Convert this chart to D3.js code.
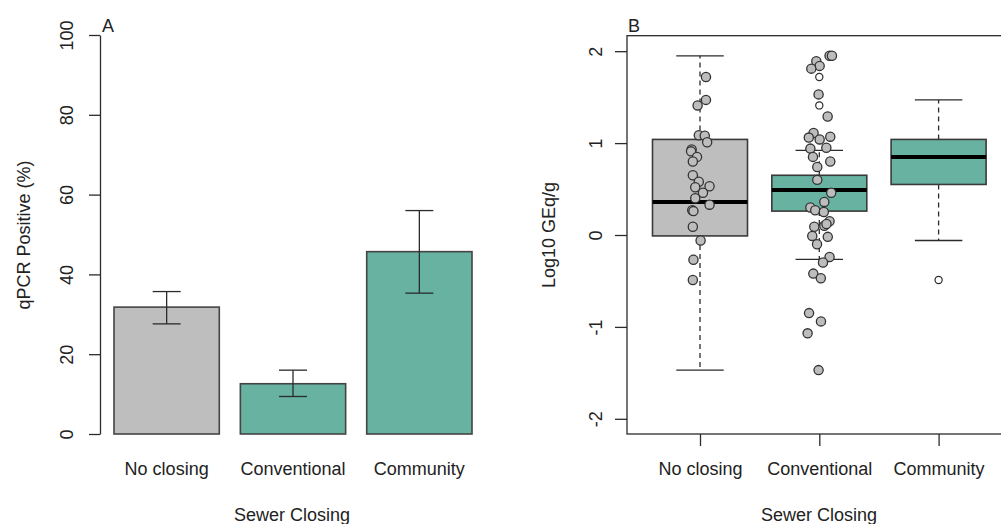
<!DOCTYPE html>
<html>
<head>
<meta charset="utf-8">
<script src="https://cdn.jsdelivr.net/npm/d3@7"></script>
<style>
  html, body { margin: 0; padding: 0; background: #fff; }
  svg text { font-family: "Liberation Sans", Arial, sans-serif; fill: #222; }
</style>
</head>
<body>
<svg id="chart" width="1001" height="524"></svg>
<script>
// ---------- DATA ----------
const categories = ["No closing", "Conventional", "Community"];
const categoryColors = ["#bebebe", "#67b2a0", "#67b2a0"];

// Panel A: percent qPCR positive with error bars
const pctPositive = [31.8, 12.6, 45.7];
const pctErrLow   = [27.6, 9.4, 35.3];
const pctErrHigh  = [35.7, 16.0, 56.0];
const pctTicks    = [0, 20, 40, 60, 80, 100];

// Panel B: boxplot stats (Log10 GEq/g)
const boxWhiskerLow  = [-1.47, -0.265, -0.06];
const boxQ1          = [-0.01, 0.26, 0.55];
const boxMedian      = [0.36, 0.49, 0.85];
const boxQ3          = [1.04, 0.65, 1.04];
const boxWhiskerHigh = [1.95, 0.92, 1.47];
const logTicks       = [-2, -1, 0, 1, 2];

// Boxplot outliers (open circles): category index (0-based), value
const outlierCat = [1, 1, 2];
const outlierVal = [1.72, 1.41, -0.49];

// Jittered raw observations: value and jitter (in category units)
const noClosingVals = [1.72, 1.47, 1.41, 1.085, 1.08, 1.01, 0.93, 0.91, 0.85, 0.80, 0.65, 0.58,
  0.52, 0.53, 0.46, 0.40, 0.33, 0.27, 0.26, 0.09, -0.06, -0.27, -0.49];
const noClosingJitter = [0.05, 0.05, -0.02, -0.01, 0.04, 0.06, -0.07, -0.075, -0.025, -0.06, -0.06, -0.01,
  -0.04, 0.08, 0.025, -0.04, 0.08, -0.065, -0.055, -0.06, 0.005, -0.055, -0.06];

const conventionalVals = [1.95, 1.95, 1.89, 1.84, 1.81, 1.53, 1.29, 1.11, 1.06, 1.04, 1.07, 0.94,
  0.95, 0.85, 0.80, 0.74, 0.60, 0.46, 0.36, 0.30, 0.27, 0.25, 0.15, 0.09, 0.10, 0.12, -0.01, -0.02,
  -0.10, -0.24, -0.30, -0.42, -0.47, -0.85, -0.94, -1.07, -1.47];
const conventionalJitter = [0.086, 0.106, -0.025, 0.003, -0.067, -0.006, 0.07, -0.048, -0.088, 0.003, 0.092, -0.075,
  0.059, -0.053, 0.092, -0.017, -0.017, 0.1, 0.042, -0.075, -0.034, 0.038, 0.086, -0.042, 0.042, 0.06, -0.059, 0.071,
  -0.019, 0.086, 0.031, -0.05, 0.013, -0.086, 0.014, -0.098, -0.006];

// ---------- DRAW ----------
const svg = d3.select("#chart");
svg.append("rect").attr("width", 1001).attr("height", 524).attr("fill", "#fff");
const ink = "#2b2b2b";
const FS = 18;

// ===== Panel A =====
const gA = svg.append("g");
const yA = d3.scaleLinear().domain([0, 100]).range([434, 35]);
const xA = d3.scaleBand().domain(categories).range([114, 472]).paddingInner(0.1667).paddingOuter(0);

const axA = gA.append("g").attr("transform", "translate(100,0)")
  .call(d3.axisLeft(yA).tickValues(pctTicks).tickSize(11).tickSizeOuter(0).tickFormat(d3.format("d")));
axA.select(".domain").attr("stroke", ink).attr("stroke-width", 1.3);
axA.selectAll(".tick line").attr("stroke", ink).attr("stroke-width", 1.3);
axA.selectAll(".tick text")
  .attr("x", null).attr("dy", null)
  .attr("text-anchor", "middle")
  .attr("transform", "translate(-27,0) rotate(-90)")
  .style("font-size", FS + "px").attr("fill", ink);

gA.selectAll("rect.bar").data(categories).join("rect")
  .attr("class", "bar")
  .attr("x", d => xA(d))
  .attr("width", xA.bandwidth())
  .attr("y", (d, i) => yA(pctPositive[i]))
  .attr("height", (d, i) => yA(0) - yA(pctPositive[i]))
  .attr("fill", (d, i) => categoryColors[i])
  .attr("stroke", "#444").attr("stroke-width", 1.6);

const capA = 14;
categories.forEach((c, i) => {
  const cx = xA(c) + xA.bandwidth() / 2;
  const g = gA.append("g").attr("stroke", ink).attr("stroke-width", 1.3);
  g.append("line").attr("x1", cx).attr("x2", cx).attr("y1", yA(pctErrLow[i])).attr("y2", yA(pctErrHigh[i]));
  g.append("line").attr("x1", cx - capA).attr("x2", cx + capA).attr("y1", yA(pctErrLow[i])).attr("y2", yA(pctErrLow[i]));
  g.append("line").attr("x1", cx - capA).attr("x2", cx + capA).attr("y1", yA(pctErrHigh[i])).attr("y2", yA(pctErrHigh[i]));
  gA.append("text").attr("x", cx).attr("y", 475).attr("text-anchor", "middle")
    .style("font-size", FS + "px").text(c);
});

gA.append("text").attr("transform", "translate(30,235) rotate(-90)")
  .attr("text-anchor", "middle").style("font-size", FS + "px").text("qPCR Positive (%)");
gA.append("text").attr("x", 292).attr("y", 521).attr("text-anchor", "middle")
  .style("font-size", FS + "px").text("Sewer Closing");
gA.append("text").attr("x", 102).attr("y", 32).style("font-size", FS + "px").text("A");

// ===== Panel B =====
const gB = svg.append("g");
const yB = d3.scaleLinear().domain([-2, 2]).range([418.8, 51.2]);
const xB = d3.scaleLinear().domain([1, 3]).range([700, 938.6]);
const frameL = 627, frameT = 35.7, frameB = 434, frameR = 1010;

gB.append("rect").attr("x", frameL).attr("y", frameT)
  .attr("width", frameR - frameL).attr("height", frameB - frameT)
  .attr("fill", "none").attr("stroke", ink).attr("stroke-width", 1.3);

const ayB = gB.append("g").attr("transform", `translate(${frameL},0)`)
  .call(d3.axisLeft(yB).tickValues(logTicks).tickSize(12).tickFormat(d3.format("d")));
ayB.select(".domain").remove();
ayB.selectAll(".tick line").attr("stroke", ink).attr("stroke-width", 1.3);
ayB.selectAll(".tick text")
  .attr("x", null).attr("dy", null)
  .attr("text-anchor", "middle")
  .attr("transform", "translate(-25,0) rotate(-90)")
  .text(d => d < 0 ? "-" + Math.abs(d) : d)
  .style("font-size", FS + "px").attr("fill", ink);

const axB = gB.append("g").attr("transform", `translate(0,${frameB})`)
  .call(d3.axisBottom(xB).tickValues([1, 2, 3]).tickSize(12).tickFormat((d, i) => categories[i]));
axB.select(".domain").remove();
axB.selectAll(".tick line").attr("stroke", ink).attr("stroke-width", 1.3);
axB.selectAll(".tick text").attr("y", null).attr("dy", null)
  .attr("transform", `translate(0,${475 - frameB})`)
  .style("font-size", FS + "px").attr("fill", ink);

const boxW = 95;
categories.forEach((c, i) => {
  const cx = xB(i + 1);
  const g = gB.append("g");
  // whiskers (dashed)
  g.append("line").attr("x1", cx).attr("x2", cx).attr("y1", yB(boxQ3[i])).attr("y2", yB(boxWhiskerHigh[i]))
    .attr("stroke", ink).attr("stroke-width", 1.3).attr("stroke-dasharray", "5,4");
  g.append("line").attr("x1", cx).attr("x2", cx).attr("y1", yB(boxQ1[i])).attr("y2", yB(boxWhiskerLow[i]))
    .attr("stroke", ink).attr("stroke-width", 1.3).attr("stroke-dasharray", "5,4");
  // staples
  [boxWhiskerHigh[i], boxWhiskerLow[i]].forEach(v => {
    g.append("line").attr("x1", cx - boxW / 4).attr("x2", cx + boxW / 4).attr("y1", yB(v)).attr("y2", yB(v))
      .attr("stroke", ink).attr("stroke-width", 1.3);
  });
  // box
  g.append("rect").attr("x", cx - boxW / 2).attr("width", boxW)
    .attr("y", yB(boxQ3[i])).attr("height", yB(boxQ1[i]) - yB(boxQ3[i]))
    .attr("fill", categoryColors[i]).attr("stroke", "#3a3a3a").attr("stroke-width", 1.6);
  // median
  g.append("line").attr("x1", cx - boxW / 2).attr("x2", cx + boxW / 2)
    .attr("y1", yB(boxMedian[i])).attr("y2", yB(boxMedian[i]))
    .attr("stroke", "#000").attr("stroke-width", 4);
});

// outliers
gB.selectAll("circle.out").data(outlierVal).join("circle")
  .attr("class", "out")
  .attr("cx", (d, i) => xB(outlierCat[i] + 1))
  .attr("cy", d => yB(d))
  .attr("r", 3.6).attr("fill", "#fff").attr("stroke", ink).attr("stroke-width", 1.2);

// jittered points
function drawPoints(vals, jit, catIdx) {
  gB.append("g").selectAll("circle").data(vals).join("circle")
    .attr("cx", (d, i) => xB(catIdx + 1 + jit[i]))
    .attr("cy", d => yB(d))
    .attr("r", 4.6)
    .attr("fill", "#bdbdbd").attr("stroke", "#333").attr("stroke-width", 1.3);
}
drawPoints(noClosingVals, noClosingJitter, 0);
drawPoints(conventionalVals, conventionalJitter, 1);

gB.append("text").attr("transform", "translate(554.5,235) rotate(-90)")
  .attr("text-anchor", "middle").style("font-size", FS + "px").text("Log10 GEq/g");
gB.append("text").attr("x", 819).attr("y", 521).attr("text-anchor", "middle")
  .style("font-size", FS + "px").text("Sewer Closing");
gB.append("text").attr("x", 628).attr("y", 32).style("font-size", FS + "px").text("B");
</script>
</body>
</html>
